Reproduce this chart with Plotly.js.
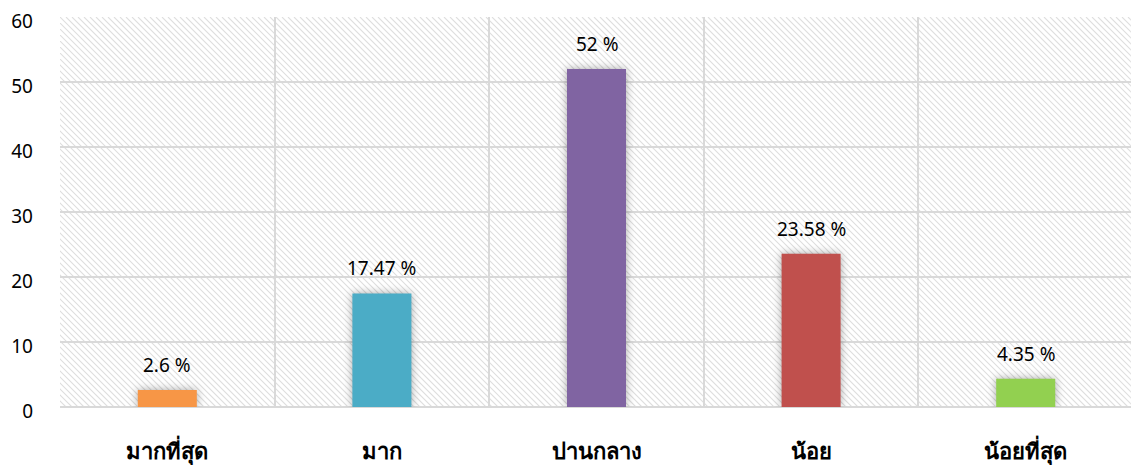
<!DOCTYPE html>
<html>
<head>
<meta charset="utf-8">
<script src="https://cdn.plot.ly/plotly-3.0.1.min.js"></script>
<style>
html,body{margin:0;padding:0;overflow:hidden;background:#fff;}
#chart{width:1134px;height:470px;}
.trace.bars .point path{filter:drop-shadow(0px 0px 4px rgba(0,0,0,0.35));}
</style>
</head>
<body>
<div id="chart"></div>
<script>
const categories = ['มากที่สุด', 'มาก', 'ปานกลาง', 'น้อย', 'น้อยที่สุด'];
const values = [2.6, 17.47, 52, 23.58, 4.35];
const valueLabels = ['2.6 %', '17.47 %', '52 %', '23.58 %', '4.35 %'];
const barColors = ['#F79646', '#4BACC6', '#8064A2', '#C0504D', '#92D050'];
const yTicks = [0, 10, 20, 30, 40, 50, 60];

const W = 1134, H = 470;
const margin = {l: 60, r: 1, t: 17, b: 63};
const pw = W - margin.l - margin.r, ph = H - margin.t - margin.b;

// hatch background as SVG
let lines = '';
const step = 6;
for (let k = -ph; k < pw + ph; k += step) {
  lines += `<line x1="${k}" y1="0" x2="${k + ph}" y2="${ph}"/>`;
}
const svg = `<svg xmlns="http://www.w3.org/2000/svg" width="${pw}" height="${ph}" viewBox="0 0 ${pw} ${ph}"><g stroke="#dedede" stroke-width="1.1">${lines}</g></svg>`;
const hatch = 'data:image/svg+xml;base64,' + btoa(svg);

const font = '"Noto Sans", "DejaVu Sans", sans-serif';

const trace = {
  type: 'bar',
  x: categories,
  y: values,
  width: 0.275,
  marker: {color: barColors, line: {width: 0}},
  hoverinfo: 'skip'
};

const annotations = categories.map((c, i) => ({
  x: c, y: values[i], xref: 'x', yref: 'y',
  text: valueLabels[i], showarrow: false,
  yanchor: 'bottom', yshift: 10,
  font: {family: font, size: 19, color: '#000'}
}));

const layout = {
  width: W, height: H,
  margin: margin,
  paper_bgcolor: '#fff',
  plot_bgcolor: 'rgba(0,0,0,0)',
  showlegend: false,
  font: {family: font, color: '#000'},
  images: [{
    source: hatch, xref: 'paper', yref: 'paper',
    x: 0, y: 1, sizex: 1, sizey: 1, sizing: 'stretch',
    xanchor: 'left', yanchor: 'top', layer: 'below'
  }],
  xaxis: {
    type: 'category',
    tickson: 'boundaries',
    showgrid: true, gridcolor: '#d9d9d9', gridwidth: 2,
    ticks: '', ticklen: 0,
    showline: false,
    zeroline: false,
    tickfont: {family: font, size: 22, color: '#000', weight: 'bold'},
    ticklabelstandoff: 29,
    fixedrange: true
  },
  yaxis: {
    range: [0, 60],
    tickvals: yTicks,
    ticktext: yTicks.map(String),
    showgrid: true, gridcolor: '#d9d9d9', gridwidth: 2,
    zeroline: true, zerolinecolor: '#d9d9d9', zerolinewidth: 2,
    showline: false,
    ticks: '',
    tickfont: {family: font, size: 19, color: '#000'},
    ticklabelstandoff: 26,
    ticklabelshift: 4,
    fixedrange: true
  },
  annotations: annotations
};

Plotly.newPlot('chart', [trace], layout, {displayModeBar: false, staticPlot: true});
</script>
</body>
</html>
